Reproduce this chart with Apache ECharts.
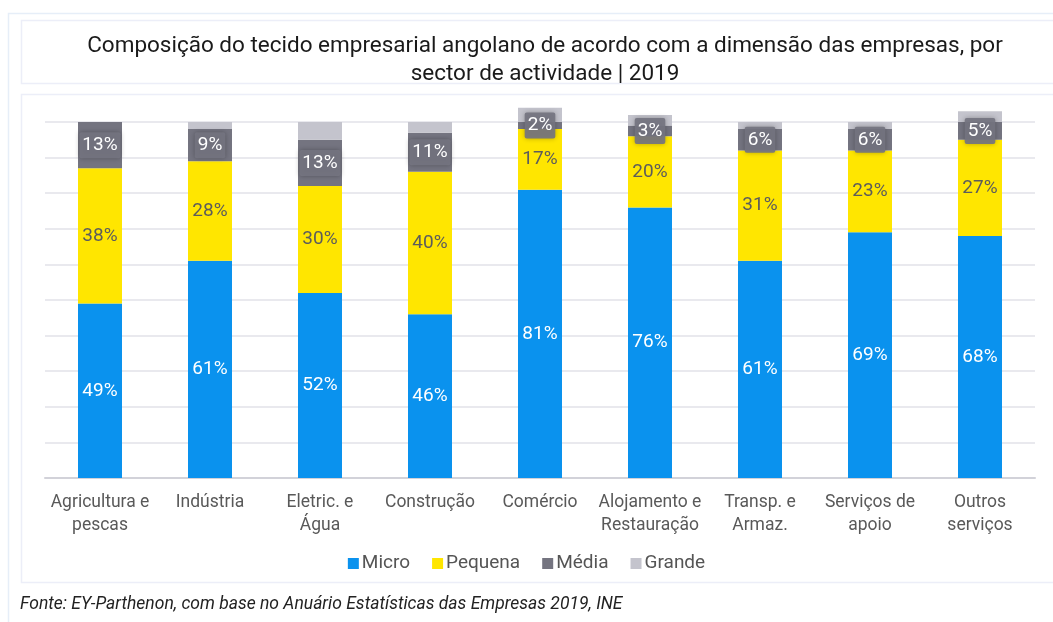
<!DOCTYPE html>
<html>
<head>
<meta charset="utf-8">
<script src="https://cdn.jsdelivr.net/npm/echarts@6/dist/echarts.min.js"></script>
<style>
  html, body { margin: 0; padding: 0; background: #fff; }
  #chart { width: 1053px; height: 622px; }
</style>
</head>
<body>
<div id="chart"></div>
<script>
// ── Data ──────────────────────────────────────────────────────────────────────
const categories = [
  'Agricultura e\npescas', 'Indústria', 'Eletric. e\nÁgua', 'Construção', 'Comércio',
  'Alojamento e\nRestauração', 'Transp. e\nArmaz.', 'Serviços de\napoio', 'Outros\nserviços',
];
const micro   = [49, 61, 52, 46, 81, 76, 61, 69, 68];
const pequena = [38, 28, 30, 40, 17, 20, 31, 23, 27];
const media   = [13,  9, 13, 11,  2,  3,  6,  6,  5];
const grande  = [ 0,  2,  5,  3,  4,  3,  2,  2,  3];

const FONT = 'Roboto, "Liberation Sans", sans-serif';
const pct = p => p.value + '%';

// ── Chart ─────────────────────────────────────────────────────────────────────
const chart = echarts.init(document.getElementById('chart'));

const bar = (name, data, color, label) => ({
  name, type: 'bar', stack: 'total', data, barWidth: 44, clip: false,
  itemStyle: { color },
  label,
  emphasis: { disabled: true },
});

chart.setOption({
  animation: false,
  textStyle: { fontFamily: FONT },
  title: {
    text: 'Composição do tecido empresarial angolano de acordo com a dimensão das empresas, por\nsector de actividade | 2019',
    left: 540, top: 27, textAlign: 'center',
    textStyle: { fontSize: 22.5, fontWeight: 'normal', color: '#1a1a1a', lineHeight: 28, fontFamily: FONT },
  },
  graphic: [
    { type: 'rect', shape: { x: 8.5, y: 13.5, width: 1060, height: 620 }, style: { fill: 'none', stroke: '#e6eef8', lineWidth: 1.5 } },
    { type: 'rect', shape: { x: 21.5, y: 20.5, width: 1050, height: 63 }, style: { fill: 'none', stroke: '#eceef8', lineWidth: 1.5 } },
    { type: 'rect', shape: { x: 21.5, y: 94.5, width: 1050, height: 488 }, style: { fill: 'none', stroke: '#eceef8', lineWidth: 1.5 } },
    {
      type: 'text', left: 20, top: 596,
      style: {
        text: 'Fonte: EY-Parthenon, com base no Anuário Estatísticas das Empresas 2019, INE',
        fontSize: 17.5, fontStyle: 'italic', fill: '#222', fontFamily: FONT,
      },
    },
  ],
  legend: {
    top: 549, left: 'center', itemWidth: 11, itemHeight: 11, itemGap: 22, icon: 'rect',
    textStyle: { fontSize: 19, color: '#555', padding: [0, 0, 0, -2] },
    data: ['Micro', 'Pequena', 'Média', 'Grande'],
  },
  grid: { left: 45, right: 18, top: 122, bottom: 144 },
  xAxis: {
    type: 'category', data: categories,
    axisTick: { show: false },
    axisLine: { lineStyle: { color: '#d2d2d9', width: 2 } },
    axisLabel: { color: '#595959', fontSize: 17.5, lineHeight: 23, margin: 13, interval: 0 },
  },
  yAxis: {
    type: 'value', min: 0, max: 100, interval: 10,
    axisLabel: { show: false }, axisLine: { show: false }, axisTick: { show: false },
    splitLine: { lineStyle: { color: '#e2e2e8', width: 1.5 } },
  },
  series: [
    bar('Micro', micro, '#0a92ee', { show: true, formatter: pct, color: '#fff', fontSize: 19 }),
    bar('Pequena', pequena, '#ffe600', { show: true, formatter: pct, color: '#5c5c5c', fontSize: 19 }),
    bar('Média', media, '#747480', {
      show: true, formatter: pct, color: '#fff', fontSize: 19,
      backgroundColor: 'rgba(116,116,128,0.92)', padding: [4, 3, 3, 3], borderRadius: 2,
      shadowBlur: 5, shadowColor: 'rgba(0,0,0,0.3)',
    }),
    bar('Grande', grande, '#c4c4cd', { show: false }),
  ],
});
</script>
</body>
</html>
